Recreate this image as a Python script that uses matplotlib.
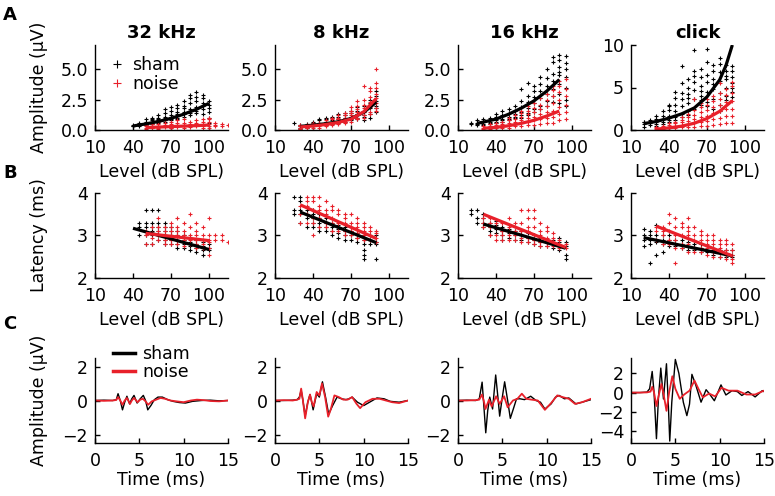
import matplotlib
matplotlib.use("Agg")
import matplotlib.pyplot as plt

plt.rcParams['font.family'] = ['DejaVu Sans']
plt.rcParams['font.size'] = 12.5

RED = '#e8202a'
BLK = 'black'

# ---------------- panel A: amplitude vs level ----------------
# 32 kHz
a32_sham_lev = list(range(40, 105, 5))
a32_sham_amp = [[0.3, 0.35, 0.4], [0.4, 0.5, 0.6, 0.3], [0.5, 0.7, 0.9, 0.4, 0.6],
                [0.6, 0.8, 1.0, 0.5, 0.7, 0.9], [0.7, 0.9, 1.2, 0.6, 0.8, 1.0],
                [0.8, 1.1, 1.4, 0.7, 1.0, 1.7], [0.9, 1.2, 1.6, 0.8, 1.1, 1.9],
                [1.0, 1.3, 1.8, 0.9, 1.5, 2.1], [1.1, 1.5, 2.0, 2.4, 1.3, 1.8],
                [1.2, 1.7, 2.2, 2.6, 1.4, 2.9], [1.4, 1.9, 2.4, 3.1, 1.6, 2.7],
                [1.3, 2.0, 2.6, 2.9, 1.7, 2.2], [1.5, 2.1, 2.4, 1.0, 0.6, 1.8]]
a32_noise_lev = list(range(50, 120, 5))
a32_noise_amp = [[0.2, 0.3, 0.4, 0.5, 0.1], [0.2, 0.3, 0.5, 0.6, 0.15], [0.2, 0.35, 0.5, 0.7, 0.1],
                 [0.25, 0.4, 0.55, 0.3, 0.8], [0.2, 0.35, 0.5, 0.7, 0.15], [0.3, 0.45, 0.6, 0.25, 0.8],
                 [0.3, 0.4, 0.6, 0.9, 0.2], [0.3, 0.5, 0.7, 0.25, 0.45], [0.3, 0.5, 0.8, 0.4, 0.6],
                 [0.35, 0.5, 0.7, 0.9, 0.2], [0.3, 0.5, 0.7, 0.9, 1.0, 0.2], [0.3, 0.4, 0.6],
                 [0.3, 0.5], [0.4]]
a32_sham_fit_lev = [40, 50, 60, 70, 80, 90, 100]
a32_sham_fit = [0.33, 0.5, 0.7, 0.96, 1.3, 1.7, 2.2]
a32_noise_fit_lev = [50, 60, 70, 80, 90, 100]
a32_noise_fit = [0.2, 0.24, 0.28, 0.32, 0.36, 0.41]

# 8 kHz
a8_sham_lev = list(range(25, 95, 5))
a8_sham_amp = [[0.6], [0.2, 0.3, 0.4, 0.1], [0.3, 0.4, 0.5, 0.2], [0.4, 0.5, 0.6, 0.3, 0.7],
               [0.5, 0.6, 0.8, 0.4, 0.9], [0.5, 0.7, 0.9, 1.0, 0.4], [0.6, 0.8, 1.0, 1.1, 0.5],
               [0.7, 0.9, 1.1, 1.3, 0.6], [0.8, 1.0, 1.2, 1.4, 0.7], [0.9, 1.1, 1.4, 1.6, 0.8],
               [1.0, 1.3, 1.6, 1.9, 0.9], [1.2, 1.5, 1.1, 2.0, 0.8], [1.3, 1.8, 2.2, 1.0, 2.5],
               [1.5, 2.0, 2.4, 2.8, 1.8, 3.2]]
a8_noise_lev = list(range(30, 95, 5))
a8_noise_amp = [[0.1, 0.2, 0.3, 0.4], [0.15, 0.25, 0.35, 0.45], [0.2, 0.3, 0.4, 0.5, 0.6],
                [0.3, 0.4, 0.5, 0.6, 0.2], [0.4, 0.5, 0.6, 0.7, 0.8, 0.3], [0.5, 0.6, 0.7, 0.9, 0.4, 1.0],
                [0.6, 0.7, 0.9, 1.0, 1.2, 0.5], [0.7, 0.9, 1.0, 1.2, 1.4, 0.6],
                [0.9, 1.0, 1.2, 1.4, 1.6, 0.7, 1.9], [1.0, 1.2, 1.5, 1.7, 2.0, 0.9, 2.4],
                [1.2, 1.5, 1.8, 2.1, 2.5, 3.6, 1.0], [1.5, 1.9, 2.3, 2.7, 3.2, 3.5, 1.3],
                [1.8, 2.2, 2.6, 3.0, 3.5, 3.9, 5.0, 1.6]]
a8_sham_fit_lev = [30, 40, 50, 60, 70, 80, 90]
a8_sham_fit = [0.3, 0.4, 0.52, 0.68, 0.95, 1.45, 2.3]
a8_noise_fit_lev = [30, 40, 50, 60, 70, 80, 90]
a8_noise_fit = [0.25, 0.33, 0.45, 0.62, 0.9, 1.5, 2.6]

# 16 kHz
a16_sham_lev = list(range(20, 100, 5))
a16_sham_amp = [[0.5, 0.6], [0.4, 0.6, 0.8, 0.5], [0.5, 0.7, 0.9, 0.4], [0.5, 0.7, 1.0, 0.6],
                [0.6, 0.8, 1.1, 0.7, 1.3], [0.7, 0.9, 1.2, 1.6, 0.8], [0.8, 1.1, 1.4, 1.7, 0.9],
                [1.0, 1.3, 1.6, 2.0, 1.1], [1.2, 1.5, 1.9, 2.4, 3.4, 1.0], [1.4, 1.8, 2.3, 2.8, 3.9, 1.2],
                [1.7, 2.2, 2.7, 3.2, 1.5, 3.6], [2.0, 2.6, 3.2, 3.8, 4.4, 1.7],
                [2.4, 3.0, 3.6, 4.3, 5.0, 2.0], [2.8, 3.4, 4.0, 4.6, 5.6, 6.0, 2.3],
                [3.0, 3.8, 4.5, 5.2, 5.8, 6.2, 2.2, 4.8], [2.0, 2.5, 3.5, 4.4, 5.0, 5.5, 6.1]]
a16_noise_lev = list(range(30, 100, 5))
a16_noise_amp = [[0.1, 0.2, 0.3], [0.1, 0.2, 0.3, 0.5], [0.15, 0.3, 0.45, 0.6], [0.2, 0.35, 0.5, 0.7],
                 [0.2, 0.4, 0.6, 0.8, 1.0], [0.3, 0.5, 0.7, 0.9, 1.2], [0.3, 0.6, 0.8, 1.1, 1.4, 1.6],
                 [0.4, 0.7, 1.0, 1.3, 1.6, 2.0], [0.4, 0.8, 1.1, 1.5, 1.8, 2.2],
                 [0.5, 0.9, 1.3, 1.7, 2.1, 2.6], [0.6, 1.0, 1.5, 2.0, 2.5, 3.0],
                 [0.6, 1.1, 1.6, 2.2, 2.8, 3.3, 3.6], [0.8, 1.3, 1.9, 2.5, 3.1, 3.6, 4.0],
                 [0.9, 1.5, 2.1, 2.8, 3.4, 4.2]]
a16_sham_fit_lev = [25, 30, 40, 50, 60, 70, 80, 90]
a16_sham_fit = [0.55, 0.65, 0.9, 1.3, 1.8, 2.4, 3.2, 4.15]
a16_noise_fit_lev = [30, 40, 50, 60, 70, 80, 90]
a16_noise_fit = [0.14, 0.22, 0.35, 0.55, 0.8, 1.15, 1.56]

# click
ack_sham_lev = list(range(20, 95, 5))
ack_sham_amp = [[0.4, 0.7, 0.9, 1.0], [0.6, 0.8, 1.0, 1.2], [0.7, 1.0, 1.3, 1.6, 0.5],
                [0.9, 1.3, 1.7, 2.2, 0.7], [1.2, 1.7, 2.3, 3.0, 1.0, 2.8], [1.5, 2.2, 3.0, 3.8, 4.5, 1.2],
                [1.9, 2.8, 3.7, 4.4, 5.5, 7.5, 1.5], [2.2, 3.2, 4.2, 5.0, 6.0, 3.8, 1.8],
                [2.5, 3.6, 4.7, 5.6, 6.4, 7.0, 9.4], [3.0, 4.0, 5.2, 6.2, 7.2, 3.5, 4.6],
                [3.3, 4.5, 5.6, 6.5, 8.0, 9.5, 2.8], [3.6, 4.8, 6.0, 7.0, 7.6, 5.4, 2.5],
                [3.0, 4.4, 5.8, 6.8, 7.8, 8.5, 2.2], [3.5, 5.0, 6.0, 7.0, 7.6, 4.0, 6.4],
                [4.5, 5.5, 6.2, 7.0, 7.5, 3.9, 5.0]]
ack_noise_lev = list(range(30, 95, 5))
ack_noise_amp = [[0.1, 0.2, 0.3], [0.1, 0.3, 0.5, 0.2], [0.2, 0.4, 0.6, 0.8], [0.2, 0.5, 0.8, 1.0, 0.3],
                 [0.3, 0.6, 0.9, 1.2, 1.5], [0.3, 0.7, 1.1, 1.5, 1.9], [0.4, 0.8, 1.3, 1.8, 2.4, 3.6],
                 [0.5, 1.0, 1.5, 2.1, 2.7, 3.2], [0.5, 1.1, 1.7, 2.4, 3.0, 3.6],
                 [0.6, 1.3, 2.0, 2.7, 3.4, 4.0], [0.7, 1.4, 2.2, 3.0, 3.7, 4.4, 5.5],
                 [0.8, 1.6, 2.5, 3.3, 4.1, 4.8], [0.8, 1.6, 2.5, 3.4, 4.3, 5.2, 5.6]]
ack_sham_fit_lev = [20, 30, 40, 50, 60, 70, 80, 85, 90]
ack_sham_fit = [0.75, 1.0, 1.4, 1.9, 2.6, 3.9, 5.9, 7.6, 10.0]
ack_noise_fit_lev = [30, 40, 50, 60, 70, 80, 90]
ack_noise_fit = [0.1, 0.25, 0.45, 0.8, 1.35, 2.2, 3.45]

# ---------------- panel B: latency vs level ----------------
b32_sham_lev = list(range(45, 105, 5))
b32_sham_lat = [[3.0, 3.2, 3.3], [2.8, 3.0, 3.2, 3.3, 3.6], [2.8, 3.0, 3.1, 3.2, 3.6, 3.3],
                [2.9, 3.0, 3.1, 3.2, 3.3, 3.6], [2.8, 2.9, 3.0, 3.1, 3.3, 3.2], [2.8, 2.9, 3.0, 3.1, 3.2],
                [2.7, 2.8, 2.9, 3.0, 3.1], [2.7, 2.8, 2.9, 3.0], [2.65, 2.75, 2.85, 2.95],
                [2.6, 2.7, 2.8, 2.9], [2.55, 2.65, 2.75, 2.85], [2.65, 2.7, 2.8]]
b32_noise_lev = list(range(50, 120, 5))
b32_noise_lat = [[2.8, 3.0, 3.1], [2.8, 2.95, 3.05, 3.2], [2.9, 3.0, 3.1, 3.2, 3.4],
                 [2.8, 2.9, 3.0, 3.1, 3.2], [2.8, 2.9, 3.0, 3.1, 3.3, 3.2], [2.8, 2.9, 3.0, 3.1, 3.2, 3.4],
                 [2.75, 2.9, 3.0, 3.1, 3.3], [2.8, 2.9, 3.0, 3.2, 3.5], [2.7, 2.8, 2.9, 3.0, 3.1, 3.3],
                 [2.7, 2.8, 2.9, 3.0, 3.2], [2.55, 2.7, 2.85, 2.9, 3.0, 3.4], [2.9, 3.0], [2.9, 3.0], [2.85]]
b32_sham_fit_lev, b32_sham_fit = [40, 100], [3.17, 2.67]
b32_noise_fit_lev, b32_noise_fit = [50, 100], [3.05, 2.88]

b8_sham_lev = list(range(25, 95, 5))
b8_sham_lat = [[3.5, 3.6, 3.9], [3.3, 3.5, 3.6, 3.8, 3.9], [3.2, 3.4, 3.5, 3.6], [3.2, 3.3, 3.4, 3.5, 3.6],
               [3.1, 3.2, 3.3, 3.4, 3.5], [3.1, 3.2, 3.3, 3.4], [3.0, 3.1, 3.2, 3.3],
               [2.95, 3.05, 3.15, 3.25], [2.9, 3.0, 3.1, 3.2], [2.9, 3.0, 3.1], [2.85, 2.95, 3.05],
               [2.45, 2.55, 2.65, 2.8, 2.9, 3.0], [2.8, 2.9, 3.0], [2.45, 2.8, 2.85, 3.0]]
b8_noise_lev = list(range(30, 95, 5))
b8_noise_lat = [[3.3, 3.5, 3.7], [3.3, 3.5, 3.7, 3.8, 3.9], [3.3, 3.4, 3.6, 3.8, 3.9, 3.0],
                [3.2, 3.4, 3.6, 3.7, 3.9], [3.2, 3.3, 3.5, 3.6, 3.8], [3.1, 3.3, 3.4, 3.6, 3.7],
                [3.1, 3.2, 3.3, 3.5, 3.6], [3.0, 3.1, 3.3, 3.4, 3.5], [3.0, 3.1, 3.2, 3.3, 3.5],
                [2.95, 3.05, 3.2, 3.3, 3.4], [2.9, 3.0, 3.1, 3.2, 3.3], [2.9, 3.0, 3.1, 3.2],
                [2.85, 2.95, 3.05, 3.1]]
b8_sham_fit_lev, b8_sham_fit = [30, 90], [3.55, 2.83]
b8_noise_fit_lev, b8_noise_fit = [30, 90], [3.72, 2.93]

b16_sham_lev = list(range(20, 100, 5))
b16_sham_lat = [[3.5, 3.6], [3.3, 3.4, 3.6], [3.2, 3.3, 3.4, 3.5], [3.1, 3.2, 3.3, 3.0],
                [3.05, 3.15, 3.25, 3.35], [3.0, 3.1, 3.2, 2.9], [2.95, 3.05, 3.15], [2.9, 3.0, 3.1],
                [2.9, 3.0, 3.1], [2.85, 2.95, 3.05], [2.8, 2.9, 3.0], [2.75, 2.85, 2.95],
                [2.75, 2.85, 2.9], [2.7, 2.8, 2.9], [2.65, 2.75, 2.85, 2.95], [2.45, 2.55, 2.75, 2.85]]
b16_noise_lev = list(range(30, 100, 5))
b16_noise_lat = [[3.2, 3.3, 3.4], [3.0, 3.2, 3.3, 3.4], [2.9, 3.0, 3.2, 3.3], [2.9, 3.0, 3.1, 3.3],
                 [2.9, 3.0, 3.1, 3.2, 3.4], [2.9, 3.0, 3.1, 3.3], [2.85, 2.95, 3.1, 3.3, 3.6],
                 [2.85, 2.95, 3.1, 3.2, 3.4, 3.6], [2.8, 2.9, 3.0, 3.2, 3.4, 3.6],
                 [2.75, 2.85, 3.0, 3.1, 3.3], [2.75, 2.85, 2.95, 3.1, 3.2], [2.75, 2.85, 2.95, 3.05],
                 [2.7, 2.8, 2.9], [2.7, 2.8]]
b16_sham_fit_lev, b16_sham_fit = [30, 95], [3.27, 2.7]
b16_noise_fit_lev, b16_noise_fit = [30, 95], [3.5, 2.72]

bck_sham_lev = list(range(20, 95, 5))
bck_sham_lat = [[2.75, 2.9, 3.0, 3.15], [2.8, 2.9, 3.0, 3.1, 2.35], [2.55, 2.85, 2.9, 3.0, 3.25],
                [2.6, 2.8, 2.9, 3.0], [2.75, 2.85, 2.9, 3.0], [2.75, 2.8, 2.9], [2.7, 2.8, 2.9],
                [2.65, 2.75, 2.85], [2.65, 2.7, 2.8], [2.6, 2.7, 2.8], [2.6, 2.65, 2.75],
                [2.55, 2.65, 2.7], [2.5, 2.6, 2.65], [2.5, 2.55, 2.65], [2.5, 2.55, 2.65]]
bck_noise_lev = list(range(30, 95, 5))
bck_noise_lat = [[2.9, 3.1, 3.2], [2.8, 3.0, 3.2, 3.1], [2.8, 2.9, 3.1, 3.3, 3.5],
                 [2.7, 2.9, 3.0, 3.2, 3.4, 2.35], [2.7, 2.8, 3.0, 3.2, 3.3], [2.6, 2.8, 3.0, 3.1, 3.2, 3.4],
                 [2.6, 2.7, 2.9, 3.0, 3.2], [2.6, 2.7, 2.9, 3.0, 3.1], [2.55, 2.7, 2.8, 2.9, 3.0],
                 [2.5, 2.6, 2.8, 2.9, 3.0], [2.5, 2.6, 2.7, 2.8, 2.9], [2.45, 2.55, 2.65, 2.8, 2.9],
                 [2.35, 2.45, 2.55, 2.65, 2.8]]
bck_sham_fit_lev, bck_sham_fit = [20, 90], [2.95, 2.52]
bck_noise_fit_lev, bck_noise_fit = [30, 90], [3.22, 2.52]

# ---------------- panel C: waveforms ----------------
c32_sham_t = [0, 1, 2, 2.4, 2.6, 2.85, 3.1, 3.35, 3.6, 3.9, 4.15, 4.4, 4.75, 5.1, 5.45, 5.7, 5.95, 6.3,
              6.7, 7.1, 7.6, 8.2, 8.8, 9.5, 10.2, 11, 12, 13, 14, 15]
c32_sham_v = [0, 0.02, 0, 0.05, 0.4, 0.0, -0.55, -0.1, 0.25, -0.2, 0.1, 0.3, -0.15, 0.1, 0.3, 0.0, -0.55,
              -0.3, 0.05, 0.2, 0.2, 0.05, -0.05, -0.12, -0.15, -0.05, 0.0, 0.02, -0.02, 0]
c32_noise_t = [0, 1, 2, 2.4, 2.6, 2.85, 3.1, 3.35, 3.6, 3.95, 4.15, 4.4, 4.8, 5.1, 5.4, 5.7, 6.0, 6.4,
               6.9, 7.4, 7.9, 8.5, 9.2, 10, 10.8, 11.5, 12.3, 13, 14, 15]
c32_noise_v = [0, -0.02, 0, 0.03, 0.2, 0, -0.25, 0, 0.15, -0.2, 0, 0.15, -0.1, 0.05, 0.1, -0.05, -0.25,
               -0.05, 0.05, 0.15, 0.1, 0.0, -0.05, -0.1, 0.0, 0.05, 0.02, -0.03, -0.05, 0]

c8_sham_t = [0, 1, 2, 2.5, 2.75, 2.95, 3.15, 3.4, 3.7, 3.95, 4.1, 4.3, 4.7, 5.0, 5.35, 5.7, 6.05, 6.5,
             7.0, 7.5, 8.0, 8.35, 8.7, 9.3, 10.0, 10.5, 11.5, 12.3, 13.0, 14.0, 15]
c8_sham_v = [0, 0, 0.02, 0.05, 0.2, 0.6, 0.0, -0.9, -0.1, 0.35, 0.0, -0.55, 0.4, 0.2, 1.1, 0.2, -0.8,
             -0.3, 0.2, 0.1, 0.05, 0.1, 0.2, -0.1, -0.3, -0.15, 0.15, 0.1, -0.05, -0.1, 0]
c8_noise_t = [0, 1, 2, 2.5, 2.75, 2.95, 3.15, 3.4, 3.7, 3.95, 4.15, 4.35, 4.7, 5.0, 5.3, 5.65, 6.0, 6.3,
              6.7, 7.2, 7.7, 8.2, 8.7, 9.2, 9.6, 10.2, 11, 11.8, 12.5, 13.2, 14, 15]
c8_noise_v = [0, 0.02, 0, 0.05, 0.1, 0.7, 0, -1.05, -0.1, 0.35, -0.1, -0.35, 0.5, 0.3, 1.0, 0.2, -0.95,
              -0.5, 0.3, 0.2, 0.05, 0.05, 0.2, -0.2, -0.45, -0.1, 0.1, 0.1, 0, -0.1, -0.15, 0]

c16_sham_t = [0, 1, 2, 2.4, 2.72, 2.9, 3.13, 3.35, 3.58, 3.9, 4.25, 4.5, 4.7, 5.0, 5.26, 5.6, 5.9, 6.3,
              6.6, 7.0, 7.5, 8.2, 8.8, 9.3, 9.8, 10.5, 11, 11.4, 12, 12.5, 13.3, 14, 15]
c16_sham_v = [0, 0.02, 0, 0.1, 1.08, -0.2, -1.9, -0.6, 0.2, -0.5, 1.5, 0.2, -0.92, 0.2, 1.1, 0.0, -1.05,
              -0.4, 0.1, 0.1, 0.05, 0.25, 0.0, -0.1, -0.5, -0.2, 0.2, 0.3, 0.1, 0.15, -0.2, -0.1, 0.05]
c16_noise_t = [0, 1, 2, 2.4, 2.7, 2.9, 3.1, 3.5, 3.8, 4.3, 4.7, 5.2, 5.6, 6.2, 6.7, 7.2, 7.7, 8.3, 9.0,
               9.8, 10.5, 11.2, 11.8, 12.5, 13.2, 14, 15]
c16_noise_v = [0, 0, 0.02, 0.05, 0.35, 0.0, -0.5, 0.05, -0.35, 0.25, -0.2, 0.25, -0.4, 0.0, 0.1, 0.4,
               0.1, 0.05, 0.0, -0.55, -0.15, 0.3, 0.2, 0.1, -0.2, -0.1, 0.1]

cck_sham_t = [0, 1, 1.8, 2.1, 2.39, 2.6, 2.87, 3.1, 3.36, 3.66, 4.0, 4.2, 4.37, 4.6, 5.0, 5.4, 5.9, 6.3,
              6.6, 6.87, 7.3, 7.9, 8.47, 8.9, 9.4, 10.15, 10.7, 11.4, 12.0, 12.5, 13.2, 14.0, 14.8, 15]
cck_sham_v = [0, 0, 0.05, 0.4, 2.2, 0, -4.8, -0.5, 2.55, -0.67, 3.0, -1.0, -5.05, -1.0, 3.45, 2.0, -1.0,
              -2.4, -1.2, 1.9, 0.8, -1.0, 0.3, -0.2, -0.85, 0.8, -0.25, 0.2, 0.1, -0.3, 0.1, -0.45, 0.2, 0.1]
cck_noise_t = [0, 1, 1.8, 2.2, 2.4, 2.6, 2.87, 3.15, 3.43, 3.7, 4.0, 4.3, 4.66, 5.0, 5.5, 6.0, 6.6, 7.16,
               7.6, 8.1, 8.8, 9.5, 10.2, 11, 12, 13, 14, 15]
cck_noise_v = [0, 0, 0.02, 0.1, 0.6, 0, -1.4, -0.2, 0.9, -0.3, -1.9, 0.0, 1.7, 0.4, -0.65, -0.2, 0.2,
               1.25, 0.4, -0.5, -0.1, -0.4, 0.5, 0.2, 0.2, -0.2, -0.2, 0.2]

titles = ['32 kHz', '8 kHz', '16 kHz', 'click']


def flat(levels, vals):
    xs, ys = [], []
    for lv, v in zip(levels, vals):
        xs += [lv] * len(v)
        ys += v
    return xs, ys


def style(ax):
    ax.spines['top'].set_visible(False)
    ax.spines['right'].set_visible(False)
    for s in ('left', 'bottom'):
        ax.spines[s].set_linewidth(1.0)
    ax.tick_params(axis='x', direction='in', length=3.5, width=1.0, pad=6.5)
    ax.tick_params(axis='y', direction='in', length=3.5, width=1.0, pad=5)


fig = plt.figure(figsize=(7.75, 4.96), dpi=100)
W, H = 775, 496
lefts = [95, 275, 458, 631]
aw = 133
YLAB_X = (48 - 95) / aw   # right edge of rotated y labels


def make_ax(col, top, bottom):
    return fig.add_axes([lefts[col] / W, 1 - bottom / H, aw / W, (bottom - top) / H])


a_data = [
    (a32_sham_lev, a32_sham_amp, a32_noise_lev, a32_noise_amp,
     a32_sham_fit_lev, a32_sham_fit, a32_noise_fit_lev, a32_noise_fit),
    (a8_sham_lev, a8_sham_amp, a8_noise_lev, a8_noise_amp,
     a8_sham_fit_lev, a8_sham_fit, a8_noise_fit_lev, a8_noise_fit),
    (a16_sham_lev, a16_sham_amp, a16_noise_lev, a16_noise_amp,
     a16_sham_fit_lev, a16_sham_fit, a16_noise_fit_lev, a16_noise_fit),
    (ack_sham_lev, ack_sham_amp, ack_noise_lev, ack_noise_amp,
     ack_sham_fit_lev, ack_sham_fit, ack_noise_fit_lev, ack_noise_fit),
]
b_data = [
    (b32_sham_lev, b32_sham_lat, b32_noise_lev, b32_noise_lat,
     b32_sham_fit_lev, b32_sham_fit, b32_noise_fit_lev, b32_noise_fit),
    (b8_sham_lev, b8_sham_lat, b8_noise_lev, b8_noise_lat,
     b8_sham_fit_lev, b8_sham_fit, b8_noise_fit_lev, b8_noise_fit),
    (b16_sham_lev, b16_sham_lat, b16_noise_lev, b16_noise_lat,
     b16_sham_fit_lev, b16_sham_fit, b16_noise_fit_lev, b16_noise_fit),
    (bck_sham_lev, bck_sham_lat, bck_noise_lev, bck_noise_lat,
     bck_sham_fit_lev, bck_sham_fit, bck_noise_fit_lev, bck_noise_fit),
]
c_data = [
    (c32_sham_t, c32_sham_v, c32_noise_t, c32_noise_v),
    (c8_sham_t, c8_sham_v, c8_noise_t, c8_noise_v),
    (c16_sham_t, c16_sham_v, c16_noise_t, c16_noise_v),
    (cck_sham_t, cck_sham_v, cck_noise_t, cck_noise_v),
]


def scatter_panel(ax, d):
    sl, sv, nl, nv, sfl, sf, nfl, nf = d
    x, y = flat(sl, sv)
    h1, = ax.plot(x, y, '+', color=BLK, ms=3.5, mew=0.8, label='sham')
    x, y = flat(nl, nv)
    h2, = ax.plot(x, y, '+', color=RED, ms=3.5, mew=0.8, label='noise')
    ax.plot(sfl, sf, color=BLK, lw=2.3, solid_capstyle='butt')
    ax.plot(nfl, nf, color=RED, lw=2.3, solid_capstyle='butt')
    ax.set_xlim(10, 115)
    ax.set_xticks([10, 40, 70, 100])
    ax.set_xlabel('Level (dB SPL)', labelpad=4)
    return h1, h2


# row A
for i, d in enumerate(a_data):
    ax = make_ax(i, 45, 130)
    style(ax)
    h1, h2 = scatter_panel(ax, d)
    ax.set_title(titles[i], fontweight='bold', fontsize=13, pad=5)
    if i < 3:
        ax.set_ylim(0, 7)
        ax.set_yticks([0, 2.5, 5.0])
        ax.set_yticklabels(['0.0', '2.5', '5.0'])
    else:
        ax.set_ylim(0, 10)
        ax.set_yticks([0, 5, 10])
    if i == 0:
        ax.set_ylabel('Amplitude (\u00b5V)')
        ax.yaxis.set_label_coords(YLAB_X, 0.5)
        ax.legend([h1, h2], ['sham', 'noise'], loc='upper left', bbox_to_anchor=(0.06, 0.95),
                  frameon=False, markerscale=1.5, handlelength=0.8, handletextpad=0.5,
                  borderaxespad=0, labelspacing=0.05)

# row B
for i, d in enumerate(b_data):
    ax = make_ax(i, 193, 278)
    style(ax)
    scatter_panel(ax, d)
    ax.set_ylim(2, 4)
    ax.set_yticks([2, 3, 4])
    if i == 0:
        ax.set_ylabel('Latency (ms)')
        ax.yaxis.set_label_coords(YLAB_X, 0.5)

# row C
for i, d in enumerate(c_data):
    ax = make_ax(i, 358, 443)
    style(ax)
    st, sv, nt, nv = d
    ax.plot(st, sv, color=BLK, lw=1.0, label='sham')
    ax.plot(nt, nv, color=RED, lw=1.3, label='noise')
    ax.set_xlim(0, 15)
    ax.set_xticks([0, 5, 10, 15])
    ax.set_xlabel('Time (ms)', labelpad=1)
    if i < 3:
        ax.set_ylim(-2.5, 2.5)
        ax.set_yticks([-2, 0, 2])
    else:
        ax.set_ylim(-5.25, 3.6)
        ax.set_yticks([-4, -2, 0, 2])
    if i == 0:
        ax.set_ylabel('Amplitude (\u00b5V)')
        ax.yaxis.set_label_coords(YLAB_X, 0.5)
        leg = ax.legend(loc='upper left', bbox_to_anchor=(0.08, 1.23), frameon=False,
                        handlelength=1.3, handletextpad=0.4, borderaxespad=0,
                        labelspacing=0.0)
        for ln in leg.get_lines():
            ln.set_linewidth(2.5)

for lab, y in [('A', 15), ('B', 173), ('C', 324)]:
    fig.text(3 / W, 1 - y / H, lab, fontsize=13, fontweight='bold', va='center', ha='left')

fig.savefig('out.png', dpi=100)
